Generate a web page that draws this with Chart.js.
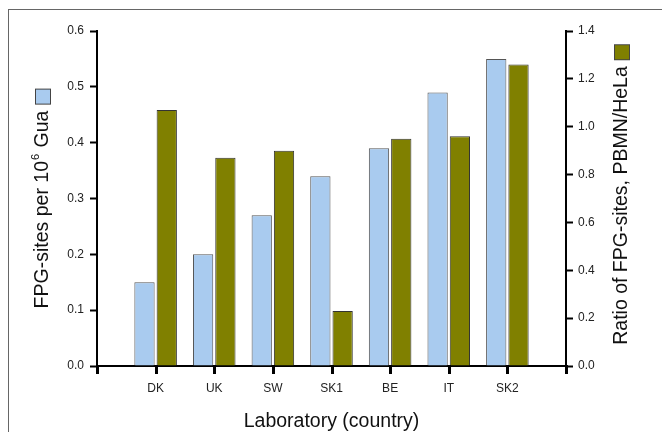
<!DOCTYPE html>
<html>
<head>
<meta charset="utf-8">
<script src="https://cdn.jsdelivr.net/npm/chart.js@4.4.0/dist/chart.umd.min.js"></script>
<style>
  html, body { margin: 0; padding: 0; background: #fff; }
  canvas { display: block; }
</style>
</head>
<body>
<canvas id="chart" width="662" height="432"></canvas>
<script>
// Laboratories (country codes)
const categories = ['DK', 'UK', 'SW', 'SK1', 'BE', 'IT', 'SK2'];
// FPG-sites per 10^6 guanines (left axis)
const fpgSites = [0.15, 0.20, 0.27, 0.34, 0.39, 0.49, 0.55];
// Ratio of FPG-sites, PBMN/HeLa (right axis)
const ratioPbmnHela = [1.07, 0.87, 0.90, 0.23, 0.95, 0.96, 1.26];
// Tick values for the two value axes
const leftTicks = [0.0, 0.1, 0.2, 0.3, 0.4, 0.5, 0.6];
const rightTicks = [0.0, 0.2, 0.4, 0.6, 0.8, 1.0, 1.2, 1.4];

const BLUE = '#a9cbef';
const OLIVE = '#808000';
const FONT = '"Liberation Sans", Arial, sans-serif';

// One empty slot on each side of the laboratories along the category axis
const labels = [''].concat(categories, ['']);
const pad = arr => [null].concat(arr, [null]);

const framePlugin = {
  id: 'frame',
  beforeDraw(chart) {
    const ctx = chart.ctx;
    ctx.save();
    ctx.fillStyle = '#fff';
    ctx.fillRect(0, 0, chart.width, chart.height);
    ctx.fillStyle = '#666';
    ctx.fillRect(8, 9, 1, chart.height - 9);
    ctx.fillRect(8, 9, chart.width - 8, 1);
    ctx.restore();
  }
};

// Downward tick marks on the category axis, one per category slot
const categoryTicksPlugin = {
  id: 'categoryTicks',
  afterDraw(chart) {
    const xs = chart.scales.x;
    const ctx = chart.ctx;
    const y0 = Math.round(chart.chartArea.bottom);
    ctx.save();
    ctx.fillStyle = '#000';
    xs.ticks.forEach((t, i) => {
      const px = Math.round(xs.getPixelForTick(i));
      ctx.fillRect(px - 1, y0 - 1, 3, 9);
    });
    ctx.restore();
  }
};

// Rotated axis titles, each with a colour key square beside it
const titlesPlugin = {
  id: 'titles',
  afterDraw(chart) {
    const ctx = chart.ctx;
    const area = chart.chartArea;
    const cy = (area.top + area.bottom) / 2;
    const size = 19.5;
    const keySize = 16;
    const gap = 6;

    function drawVertical(cx, parts, colour, shift) {
      ctx.save();
      let textW = 0;
      parts.forEach(p => {
        ctx.font = p.size + 'px ' + FONT;
        p.w = ctx.measureText(p.text).width + (p.extra || 0);
        textW += p.w;
      });
      const total = textW + gap + keySize;
      ctx.translate(cx, cy + shift + total / 2);
      ctx.rotate(-Math.PI / 2);
      ctx.fillStyle = '#111';
      ctx.textBaseline = 'middle';
      ctx.textAlign = 'left';
      let x = 0;
      parts.forEach(p => {
        ctx.font = p.size + 'px ' + FONT;
        ctx.fillText(p.text, x + (p.lead || 0), p.rise || 0);
        x += p.w;
      });
      x += gap;
      ctx.fillStyle = '#444';
      ctx.fillRect(x, -keySize / 2, keySize, keySize);
      ctx.fillStyle = colour;
      ctx.fillRect(x + 1, -keySize / 2 + 1, keySize - 2, keySize - 2);
      ctx.restore();
    }

    drawVertical(43, [
      { text: 'FPG-sites per 10', size: size },
      { text: '6', size: 11, rise: -7, lead: 1, extra: 2 },
      { text: ' Gua', size: size }
    ], BLUE, 0);

    drawVertical(622, [
      { text: 'Ratio of FPG-sites, PBMN/HeLa', size: size }
    ], OLIVE, -4);

    ctx.save();
    ctx.font = size + 'px ' + FONT;
    ctx.fillStyle = '#111';
    ctx.textAlign = 'center';
    ctx.textBaseline = 'alphabetic';
    ctx.fillText('Laboratory (country)', (area.left + area.right) / 2, 427);
    ctx.restore();
  }
};

const axisGrid = {
  display: true,
  offset: false,
  drawOnChartArea: false,
  drawTicks: true,
  tickLength: 7,
  tickWidth: 2,
  color: '#000'
};
const axisBorder = { display: true, color: '#000', width: 2 };
const tickFont = { family: FONT, size: 12 };

new Chart(document.getElementById('chart'), {
  type: 'bar',
  data: {
    labels: labels,
    datasets: [
      {
        label: 'FPG-sites per 10^6 Gua',
        data: pad(fpgSites),
        yAxisID: 'y',
        backgroundColor: BLUE,
        borderColor: '#555',
        borderWidth: 1,
        borderSkipped: 'bottom'
      },
      {
        label: 'Ratio of FPG-sites, PBMN/HeLa',
        data: pad(ratioPbmnHela),
        yAxisID: 'y1',
        backgroundColor: OLIVE,
        borderColor: '#333',
        borderWidth: 1,
        borderSkipped: 'bottom'
      }
    ]
  },
  options: {
    responsive: false,
    animation: false,
    devicePixelRatio: 1,
    categoryPercentage: 0.76,
    barPercentage: 0.91,
    layout: { padding: { top: 31, left: 0, right: 0, bottom: 0 } },
    plugins: {
      legend: { display: false },
      tooltip: { enabled: false },
      title: { display: false }
    },
    scales: {
      x: {
        type: 'category',
        offset: false,
        grid: Object.assign({}, axisGrid, { drawTicks: false }),
        border: axisBorder,
        ticks: {
          color: '#222',
          font: tickFont,
          padding: 15,
          autoSkip: false,
          maxRotation: 0
        },
        afterFit(scale) { scale.height = 66; }
      },
      y: {
        position: 'left',
        min: 0,
        max: leftTicks[leftTicks.length - 1],
        afterBuildTicks(scale) { scale.ticks = leftTicks.map(v => ({ value: v })); },
        grid: axisGrid,
        border: axisBorder,
        ticks: {
          color: '#222',
          font: tickFont,
          padding: 6,
          callback: v => Number(v).toFixed(1)
        },
        afterFit(scale) { scale.width = 97; }
      },
      y1: {
        position: 'right',
        min: 0,
        max: rightTicks[rightTicks.length - 1],
        afterBuildTicks(scale) { scale.ticks = rightTicks.map(v => ({ value: v })); },
        grid: axisGrid,
        border: axisBorder,
        ticks: {
          color: '#222',
          font: tickFont,
          padding: 5,
          callback: v => Number(v).toFixed(1)
        },
        afterFit(scale) { scale.width = 96; }
      }
    }
  },
  plugins: [framePlugin, categoryTicksPlugin, titlesPlugin]
});
</script>
</body>
</html>
